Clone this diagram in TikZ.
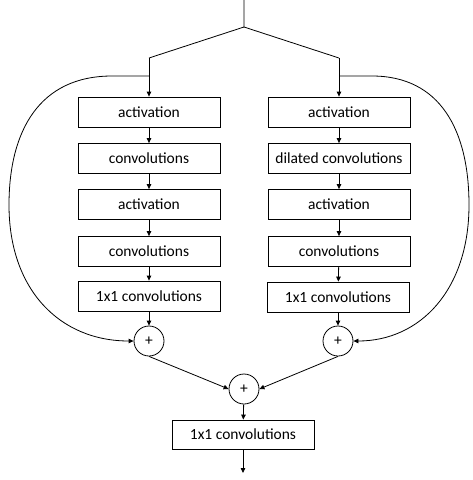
\documentclass[tikz,border=0pt]{standalone}
\usepackage{fontspec}
\setmainfont{Carlito}
\usepackage{tikz}
\usetikzlibrary{arrows.meta}

\begin{document}
\begin{tikzpicture}[x=1pt, y=-1pt, line width=0.8pt,
		layer/.style={draw, minimum width=142pt, minimum height=30pt, inner sep=0pt, font=\fontsize{15.5}{18}\selectfont},
		add/.style={draw, circle, minimum size=30pt, inner sep=0pt, font=\fontsize{15.5}{18}\selectfont},
		flow/.style={-{Triangle[length=5pt,width=4.5pt]}}]
			%%%%% START %%%%%
			\useasboundingbox (0, 0) rectangle (472, 480);
			
			\coordinate (in) at (244, 0);
			\coordinate (split) at (244, 27);
			\coordinate (sl) at (149, 58);
			\coordinate (sr) at (339, 58);
			\coordinate (bl) at (149, 76);
			\coordinate (br) at (339, 76);
			\coordinate (out) at (243, 473);
			
			% left branch
			\node[layer] (la1) at (149, 112) {activation};
			\node[layer] (lc1) at (149, 158.5) {convolutions};
			\node[layer] (la2) at (149, 204.5) {activation};
			\node[layer] (lc2) at (149, 251.5) {convolutions};
			\node[layer] (lp) at (149, 296) {1x1 convolutions};
			\node[add] (ls) at (149, 341) {+};
			
			% right branch
			\node[layer] (ra1) at (339, 112) {activation};
			\node[layer] (rc1) at (339, 158.5) {dilated convolutions};
			\node[layer] (ra2) at (339, 204.5) {activation};
			\node[layer] (rc2) at (339, 251.5) {convolutions};
			\node[layer] (rp) at (338, 297) {1x1 convolutions};
			\node[add] (rs) at (338, 341) {+};
			
			\node[add] (sum) at (244, 389) {+};
			\node[layer, minimum height=29pt] (fin) at (243, 434.5) {1x1 convolutions};
			
			\draw (in) -- (split) -- (sl);
			\draw (split) -- (sr);
			\draw[flow] (sl) -- (la1);
			\draw[flow] (sr) -- (ra1);
			
			\draw[flow] (la1) -- (lc1);
			\draw[flow] (lc1) -- (la2);
			\draw[flow] (la2) -- (lc2);
			\draw[flow] (lc2) -- (lp);
			\draw[flow] (lp) -- (ls);
			
			\draw[flow] (ra1) -- (rc1);
			\draw[flow] (rc1) -- (ra2);
			\draw[flow] (ra2) -- (rc2);
			\draw[flow] (rc2) -- (rp);
			\draw[flow] (rp) -- (rs);
			
			% skip connections
			\draw[flow] (bl) -- (112, 76) .. controls (40, 76) and (9, 130) .. (9, 205) .. controls (9, 290) and (60, 341) .. (ls.west);
			\draw[flow] (br) -- (372, 76) .. controls (440, 76) and (469, 130) .. (469, 205) .. controls (469, 290) and (420, 341) .. (rs.east);
			
			\draw[flow] (ls.south) -- (sum.west);
			\draw[flow] (rs.south) -- (sum.east);
			\draw[flow] (sum) -- (fin);
			\draw[flow] (fin) -- (out);
			%%%%% END %%%%%
\end{tikzpicture}
\end{document}
